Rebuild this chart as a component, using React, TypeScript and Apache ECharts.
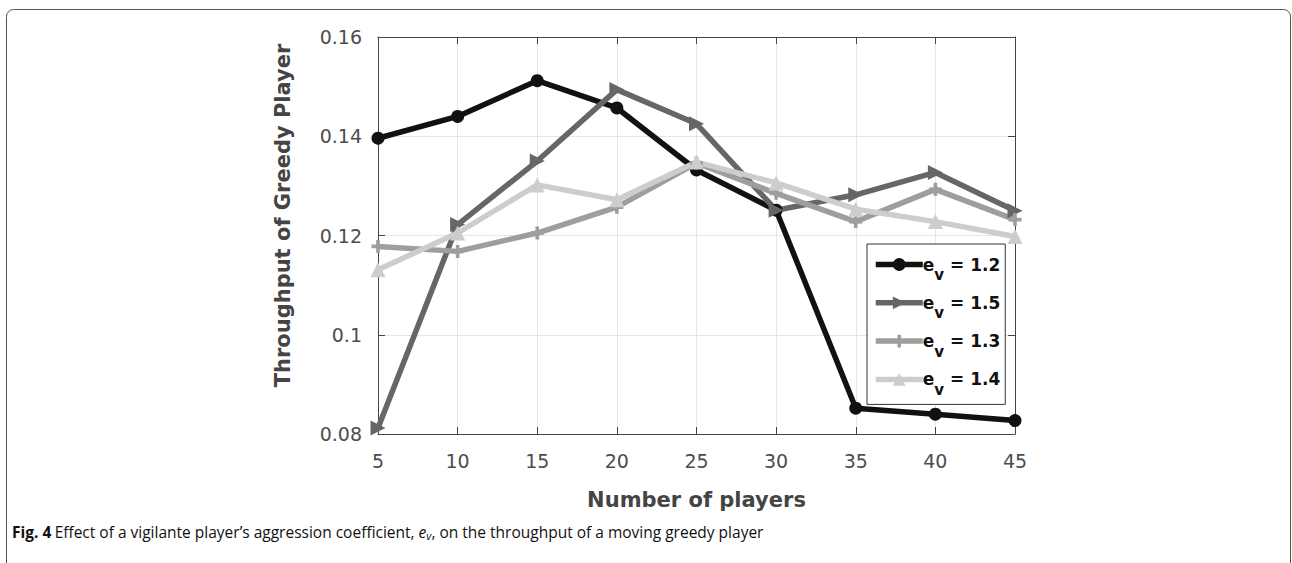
import React, { useEffect, useRef } from "react";
import * as echarts from "echarts";

const players = [5, 10, 15, 20, 25, 30, 35, 40, 45];
const ev12 = [0.1396, 0.144, 0.1512, 0.1457, 0.1332, 0.1251, 0.0852, 0.084, 0.0827];
const ev15 = [0.0812, 0.1222, 0.135, 0.1494, 0.1425, 0.1251, 0.1282, 0.1327, 0.125];
const ev13 = [0.1178, 0.1168, 0.1205, 0.1257, 0.1346, 0.1285, 0.1228, 0.1293, 0.1232];
const ev14 = [0.1131, 0.1205, 0.1302, 0.1272, 0.1348, 0.1306, 0.1253, 0.1228, 0.1198];
const seriesNames = ["1.2", "1.5", "1.3", "1.4"];
const yTicks = { min: 0.08, max: 0.16, interval: 0.02 };
const xTicks = { min: 5, max: 45, interval: 5 };

const TRI_RIGHT = "path://M0,0L10,5L0,10Z";
const PLUS = "path://M3.6,0H6.4V3.6H10V6.4H6.4V10H3.6V6.4H0V3.6H3.6Z";

export default function App() {
  const ref = useRef<HTMLDivElement>(null);
  useEffect(() => {
    if (!ref.current) return;
    const chart = echarts.init(ref.current, undefined, { renderer: "svg" });
    const pair = (vals: number[]) => players.map((p, i) => [p, vals[i]]);
    const axisCol = "#444";
    const font = "DejaVu Sans";
    const mk = (name: string, vals: number[], color: string, symbol: string, size: number) => ({
      name,
      type: "line",
      data: pair(vals),
      symbol,
      symbolSize: size,
      clip: false,
      lineStyle: { color, width: 5.5 },
      itemStyle: { color },
    });
    const option: any = {
      animation: false,
      backgroundColor: "#fff",
      grid: { left: 378, right: 277, top: 37, bottom: 129 },
      xAxis: [
        {
          type: "value",
          min: xTicks.min,
          max: xTicks.max,
          interval: xTicks.interval,
          name: "Number of players",
          nameLocation: "middle",
          nameGap: 55,
          nameTextStyle: { fontFamily: font, fontWeight: "bold", fontSize: 21, color: axisCol },
          axisLine: { show: true, lineStyle: { color: axisCol, width: 1 } },
          axisTick: { show: true, inside: true, length: 7, lineStyle: { color: axisCol } },
          axisLabel: { fontFamily: font, fontSize: 19, color: "#4d4d4d", margin: 17 },
          splitLine: { show: true, lineStyle: { color: "#e6e6e6", width: 1 } },
        },
        {
          type: "value",
          position: "top",
          min: xTicks.min,
          max: xTicks.max,
          interval: xTicks.interval,
          axisLine: { show: true, lineStyle: { color: axisCol, width: 1 } },
          axisTick: { show: true, inside: true, length: 7, lineStyle: { color: axisCol } },
          axisLabel: { show: false },
          splitLine: { show: false },
        },
      ],
      yAxis: [
        {
          type: "value",
          min: yTicks.min,
          max: yTicks.max,
          interval: yTicks.interval,
          name: "Throughput of Greedy Player",
          nameLocation: "middle",
          nameGap: 85,
          nameTextStyle: {
            fontFamily: font,
            fontWeight: "bold",
            fontSize: 21,
            color: axisCol,
            padding: [0, 0, 0, 40],
          },
          axisLine: { show: true, lineStyle: { color: axisCol, width: 1 } },
          axisTick: { show: true, inside: true, length: 7, lineStyle: { color: axisCol } },
          axisLabel: { fontFamily: font, fontSize: 19, color: "#4d4d4d", margin: 16 },
          splitLine: { show: true, lineStyle: { color: "#e6e6e6", width: 1 } },
        },
        {
          type: "value",
          position: "right",
          min: yTicks.min,
          max: yTicks.max,
          interval: yTicks.interval,
          axisLine: { show: true, lineStyle: { color: axisCol, width: 1 } },
          axisTick: { show: true, inside: true, length: 7, lineStyle: { color: axisCol } },
          axisLabel: { show: false },
          splitLine: { show: false },
        },
      ],
      legend: {
        orient: "vertical",
        left: 867,
        top: 244,
        padding: [12, 5, 7, 6],
        itemGap: 11.8,
        itemWidth: 47,
        itemHeight: 16,
        borderColor: "#333",
        borderWidth: 1,
        backgroundColor: "#fff",
        data: seriesNames,
        lineStyle: { width: 5.5 },
        formatter: (n: string) => `{b|e}{s|v}{b| = ${n}}`,
        textStyle: {
          padding: [0, 0, 0, -5],
          rich: {
            b: { fontFamily: font, fontWeight: "bold", fontSize: 17, color: "#111", lineHeight: 27 },
            s: { fontFamily: font, fontWeight: "bold", fontSize: 15, color: "#111", lineHeight: 27, height: 6, verticalAlign: "bottom" },
          },
        },
      },
      graphic: [
        {
          type: "rect",
          shape: { x: 6.5, y: 9.5, width: 1284, height: 700, r: 7 },
          style: { fill: "none", stroke: "#555", lineWidth: 1 },
          silent: true,
        },
        {
          type: "text",
          left: 12,
          top: 524,
          style: {
            text: "{fb|Fig. 4} {r|Effect of a vigilante player’s aggression coefficient, }{i|e}{is|v}{r|, on the throughput of a moving greedy player}",
            rich: {
              fb: { fontFamily: "Open Sans", fontWeight: "bold", fontSize: 15.5, fill: "#111" },
              r: { fontFamily: "Open Sans", fontSize: 15.5, fill: "#111" },
              i: { fontFamily: "Open Sans", fontStyle: "italic", fontSize: 15.5, fill: "#111" },
              is: { fontFamily: "Open Sans", fontStyle: "italic", fontSize: 11, fill: "#111", padding: [7, 0, 0, 0] },
            },
          },
        },
      ],
      series: [
        mk(seriesNames[0], ev12, "#111111", "circle", 13),
        mk(seriesNames[1], ev15, "#666666", TRI_RIGHT, 15),
        mk(seriesNames[2], ev13, "#9e9e9e", PLUS, 13),
        mk(seriesNames[3], ev14, "#cdcdcd", "triangle", 15),
      ],
    };
    chart.setOption(option);
    return () => chart.dispose();
  }, []);
  return (
    <div
      ref={ref}
      style={{ position: "absolute", left: 0, top: 0, width: 1292, height: 563 }}
    />
  );
}
